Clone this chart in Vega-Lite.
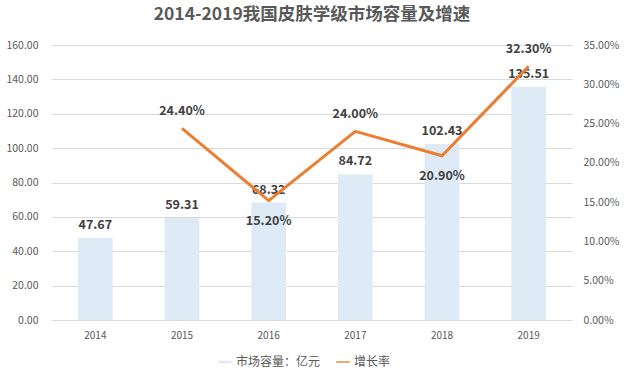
{
  "$schema": "https://vega.github.io/schema/vega-lite/v6.json",
  "width": 520,
  "height": 275,
  "autosize": {"type": "none"},
  "padding": {"left": 52, "top": 45, "right": 52, "bottom": 55},
  "background": "white",
  "title": {
    "text": "2014-2019我国皮肤学级市场容量及增速",
    "font": "Noto Sans CJK SC",
    "fontSize": 17.5,
    "fontWeight": "bold",
    "color": "#595959",
    "anchor": "middle",
    "offset": 17
  },
  "config": {
    "view": {"stroke": null},
    "font": "Noto Sans CJK SC",
    "axis": {"labelFont": "Noto Sans CJK SC", "labelColor": "#595959", "labelFontSize": 10.5, "labelOverlap": false, "labelBound": false}
  },
  "data": {
    "values": [
      {"year": "2014", "size": 47.67, "growth": null},
      {"year": "2015", "size": 59.31, "growth": 0.244},
      {"year": "2016", "size": 68.32, "growth": 0.152},
      {"year": "2017", "size": 84.72, "growth": 0.24},
      {"year": "2018", "size": 102.43, "growth": 0.209},
      {"year": "2019", "size": 135.51, "growth": 0.323}
    ]
  },
  "encoding": {
    "x": {
      "field": "year",
      "type": "nominal",
      "scale": {"paddingInner": 0.6, "paddingOuter": 0.3},
      "axis": {"title": null, "labelAngle": 0, "domain": false, "ticks": false, "labelPadding": 10, "labelFontSize": 10}
    }
  },
  "layer": [
    {
      "encoding": {
        "y": {
          "field": "size",
          "type": "quantitative",
          "scale": {"domain": [0, 160], "nice": false},
          "axis": {"title": null, "values": [0, 20, 40, 60, 80, 100, 120, 140, 160], "tickCount": 9, "format": ".2f", "domain": false, "ticks": false, "gridColor": "#D9D9D9", "labelPadding": 14}
        }
      },
      "layer": [
        {
          "mark": {"type": "bar"},
          "encoding": {
            "color": {
              "datum": "市场容量：亿元",
              "type": "nominal",
              "scale": {"domain": ["市场容量：亿元", "增长率"], "range": ["#DEEBF7", "#ED7D31"]},
              "legend": {
                "title": null,
                "orient": "none",
                "legendX": 166,
                "legendY": 310,
                "direction": "horizontal",
                "symbolType": "M-1,-0.2H1V0.2H-1Z",
                "symbolSize": 180,
                "symbolStrokeWidth": 0,
                "labelFontSize": 12,
                "labelOffset": 4,
                "labelColor": "#595959",
                "columnPadding": 15,
                "encode": {"symbols": {"update": {
                  "fill": {"scale": "color", "field": "value"},
                  "shape": {"signal": "datum.value == '增长率' ? 'M-1,-0.1H1V0.1H-1Z' : 'M-1,-0.2H1V0.2H-1Z'"},
                  "strokeWidth": {"value": 0},
                  "opacity": {"value": 1}
                }}}
              }
            }
          }
        },
        {
          "mark": {"type": "text", "dy": -13, "fontWeight": "bold", "fontSize": 12.5, "color": "#404040"},
          "encoding": {
            "text": {"field": "size", "type": "quantitative", "format": ".2f"}
          }
        }
      ]
    },
    {
      "transform": [{"filter": "datum.growth != null"}],
      "encoding": {
        "y": {
          "field": "growth",
          "type": "quantitative",
          "scale": {"domain": [0, 0.35], "nice": false},
          "axis": {"title": null, "orient": "right", "values": [0, 0.05, 0.1, 0.15, 0.2, 0.25, 0.3, 0.35], "tickCount": 8, "format": ".2%", "domain": false, "ticks": false, "grid": false, "labelPadding": 11}
        }
      },
      "layer": [
        {
          "mark": {"type": "line", "strokeWidth": 3},
          "encoding": {
            "color": {"datum": "增长率", "type": "nominal"}
          }
        },
        {
          "transform": [{"filter": "datum.year == '2015' || datum.year == '2017' || datum.year == '2019'"}],
          "mark": {"type": "text", "dy": -17, "fontWeight": "bold", "fontSize": 12.5, "color": "#404040"},
          "encoding": {
            "text": {"field": "growth", "type": "quantitative", "format": ".2%"}
          }
        },
        {
          "transform": [{"filter": "datum.year == '2016' || datum.year == '2018'"}],
          "mark": {"type": "text", "dy": 20, "fontWeight": "bold", "fontSize": 12.5, "color": "#404040"},
          "encoding": {
            "text": {"field": "growth", "type": "quantitative", "format": ".2%"}
          }
        }
      ]
    }
  ],
  "resolve": {"scale": {"y": "independent"}}
}
